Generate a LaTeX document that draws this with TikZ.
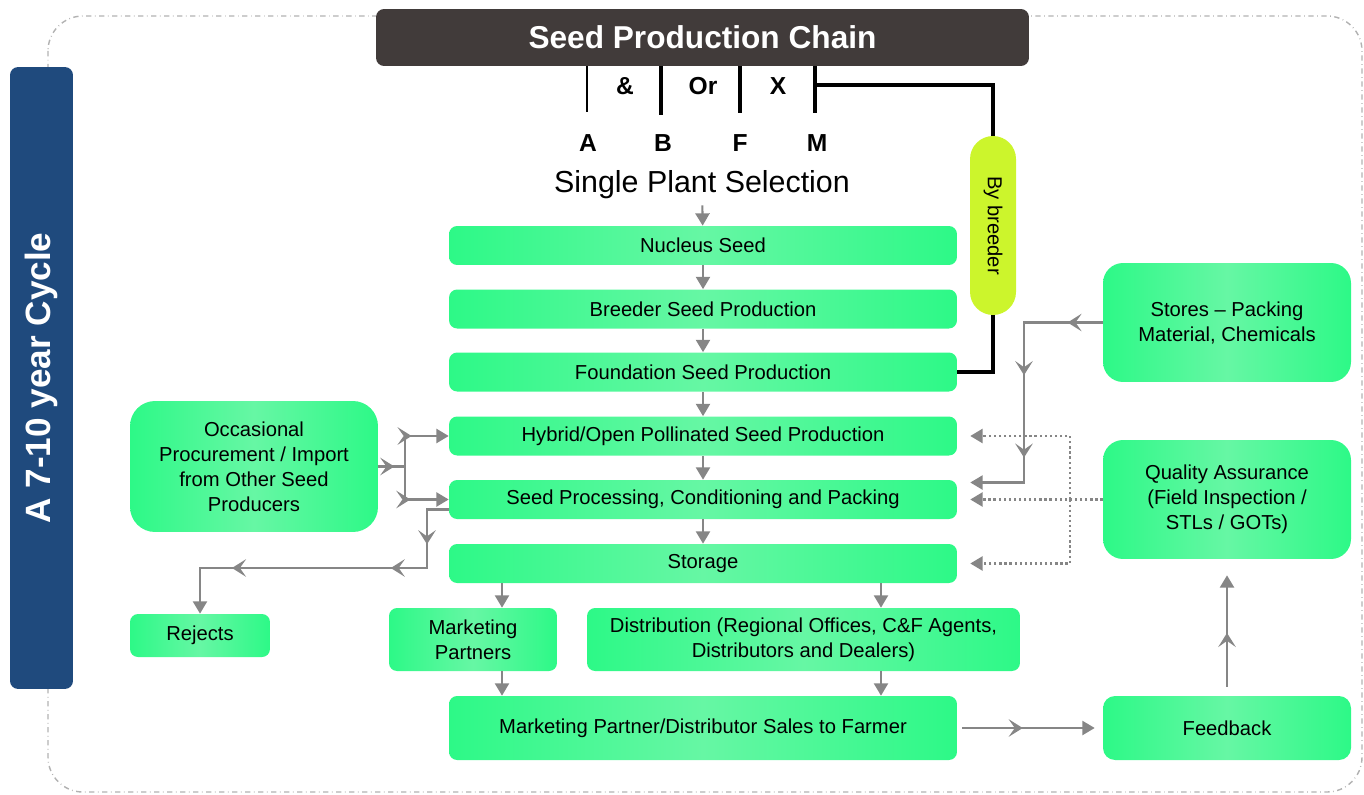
\documentclass[tikz,border=0pt]{standalone}
\usepackage{fontspec}
\setmainfont{Liberation Sans}
\usetikzlibrary{arrows.meta,decorations.markings}
\definecolor{boxgreen}{HTML}{2DF987}
\definecolor{boxlight}{HTML}{66F7A4}
\definecolor{pillgreen}{HTML}{CCF52C}
\definecolor{chaingray}{HTML}{413B3A}
\definecolor{cycleblue}{HTML}{1F4A7D}
\definecolor{arrgray}{HTML}{868686}
\tikzset{
  stage/.style={rounded corners=0.16cm, left color=boxgreen, right color=boxgreen, middle color=boxlight,
    minimum width=10.16cm, minimum height=0.78cm, align=center, font=\fontsize{11.5}{14.2}\selectfont},
  side/.style={stage, rounded corners=0.4cm, minimum width=4.96cm, minimum height=2.38cm},
  flow/.style={draw=arrgray, line width=1.2pt, -{Triangle[length=7pt,width=8pt]}},
  chev/.style={postaction={decorate, decoration={markings,
    mark=at position #1 with {\arrow{Stealth[length=8pt,width=10pt,inset=3.5pt]}}}}},
  qa/.style={draw=arrgray, line width=1.3pt, dash pattern=on 1.3pt off 1.6pt, -{Triangle[length=7pt,width=8pt]}},
  link/.style={line width=1.8pt, black},
  letter/.style={font=\bfseries\fontsize{14}{16}\selectfont},
}
\begin{document}
\begin{tikzpicture}[x=0.02cm, y=-0.02cm]
\useasboundingbox (0,0) rectangle (1364,794);
\draw[gray!60, dash dot, line width=0.8pt, rounded corners=0.7cm] (48,16) rectangle (1362,792);

\node[fill=cycleblue, rounded corners=0.16cm, rotate=90, minimum width=12.44cm, minimum height=1.26cm,
  text=white, font=\bfseries\fontsize{20}{24}\selectfont] (cycle) at (41.5,378) {A 7-10 year Cycle};
\node[fill=chaingray, rounded corners=0.16cm, minimum width=13.06cm, minimum height=1.14cm,
  text=white, font=\bfseries\fontsize{18}{22}\selectfont] (chain) at (702.5,37.5) {Seed Production Chain};

\node[letter] (amp) at (625,86) {\&};
\node[letter] (or) at (703,86) {Or};
\node[letter] (x) at (778,86) {X};
\node[letter] (A) at (588,143) {A};
\node[letter] (B) at (663,143) {B};
\node[letter] (F) at (740,143) {F};
\node[letter] (M) at (817,143) {M};
\coordinate (m1) at (815,85);

\draw[line width=1pt] (chain.south -| 587,0) -- ++(0,46);
\draw[link] (chain.south -| 661,0) -- ++(0,49);
\draw[link] (chain.south -| 740,0) -- ++(0,47);
\draw[link] (chain.south -| m1) -- ++(0,47);

\node[fill=pillgreen, rounded corners=0.46cm, rotate=-90, minimum width=3.58cm, minimum height=0.92cm,
  font=\fontsize{11.5}{14}\selectfont] (pill) at (993,225.5) {By breeder};

\node[font=\fontsize{17.3}{20}\selectfont] (sps) at (702,185) {Single Plant Selection};
\node[stage] (nucl) at (703,245.5) {Nucleus Seed};
\node[stage] (breed) at (703,309) {Breeder Seed Production};
\node[stage] (found) at (703,372) {Foundation Seed Production};
\node[stage] (hyb) at (703,436) {Hybrid/Open Pollinated Seed Production};
\node[stage] (proc) at (703,499.5) {Seed Processing, Conditioning and Packing};
\node[stage] (stor) at (703,563.5) {Storage};
\node[stage, minimum width=3.36cm, minimum height=1.26cm] (mkt) at (473,639.5) {Marketing\\Partners};
\node[stage, minimum width=8.66cm, minimum height=1.26cm] (dist) at (803.5,639.5) {Distribution (Regional Offices, C\&F Agents,\\Distributors and Dealers)};
\node[stage, minimum height=1.28cm] (sales) at (703,728) {Marketing Partner/Distributor Sales to Farmer};
\node[stage, minimum width=2.8cm, minimum height=0.86cm] (rej) at (200,635.5) {Rejects};
\node[side, minimum height=2.62cm, rounded corners=0.5cm] (occ) at (254,466.5) {Occasional\\Procurement / Import\\from Other Seed\\Producers};
\node[side] (store) at (1227,322.5) {Stores -- Packing\\Material, Chemicals};
\node[side] (qual) at (1227,499.5) {Quality Assurance\\(Field Inspection /\\STLs / GOTs)};
\node[side, minimum height=1.28cm, rounded corners=0.24cm] (feed) at (1227,728) {Feedback};

\coordinate (oj) at (405,466.5);
\coordinate (r1) at (427,568);
\coordinate (s1) at (1024,400);
\coordinate (q1) at (1070,499.5);

\draw[link] (m1) -| (pill.west);
\draw[link] (pill.east) |- (found.east);

\draw[flow] (sps) to (nucl);
\draw[flow] (nucl) to (breed);
\draw[flow] (breed) to (found);
\draw[flow] (found) to (hyb);
\draw[flow] (hyb) to (proc);
\draw[flow] (proc) to (stor);
\draw[flow] ([xshift=0.58cm]mkt.north |- stor.south) to ([xshift=0.58cm]mkt.north);
\draw[flow] ([xshift=1.55cm]dist.north |- stor.south) to ([xshift=1.55cm]dist.north);
\draw[flow] ([xshift=0.58cm]mkt.south) to ([xshift=0.58cm]mkt.south |- sales.north);
\draw[flow] ([xshift=1.55cm]dist.south) to ([xshift=1.55cm]dist.south |- sales.north);

\draw[flow, -, chev=0.6] (occ.east) -- (oj);
\draw[flow, chev=0.5] (oj) |- (hyb.west);
\draw[flow, chev=0.5] (oj) |- (proc.west);
\draw[flow, chev=0.16, chev=0.33, chev=0.78] ([yshift=-0.2cm]proc.west) -| (r1) -| (rej.north);
\draw[flow, chev=0.115, chev=0.43, chev=0.7, shorten >=0.26cm] (store.west) -| (s1) |- ([yshift=0.34cm]proc.east);

\draw[qa, shorten >=0.26cm] (qual.west) -- (proc.east);
\draw[qa, shorten >=0.26cm] (q1) |- (hyb.east);
\draw[qa, shorten >=0.26cm] (q1) |- (stor.east);

\draw[flow, chev=0.45, shorten <=0.1cm, shorten >=0.16cm] (sales) -- (feed);
\draw[flow, chev=0.46, shorten <=0.18cm, shorten >=0.32cm] (feed) -- (qual);
\end{tikzpicture}
\end{document}
